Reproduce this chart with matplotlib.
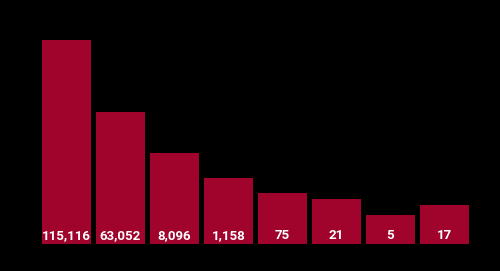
import matplotlib
matplotlib.use("Agg")
import matplotlib.pyplot as plt

labels = ["115,116", "63,052", "8,096", "1,158", "75", "21", "5", "17"]
bar_heights = [204, 132, 91, 66, 51, 45, 29, 39]

fig = plt.figure(figsize=(5.0, 2.71), dpi=100, facecolor="black")
ax = fig.add_axes([0.079, 0.0996, 0.864, 0.753])
ax.set_facecolor("black")
x = list(range(len(bar_heights)))
ax.bar(x, bar_heights, width=0.9, color="#A0042C")
for xi, lab in zip(x, labels):
    ax.annotate(lab, xy=(xi, 0), xytext=(0, 3.6), textcoords="offset points",
                ha="center", va="baseline", color="white", fontsize=9.5,
                fontweight="bold", family="Roboto")
ax.set_xlim(-0.5, len(bar_heights) - 0.5)
ax.set_ylim(0, 204)
ax.axis("off")
fig.savefig("out.png", dpi=100, facecolor="black")
